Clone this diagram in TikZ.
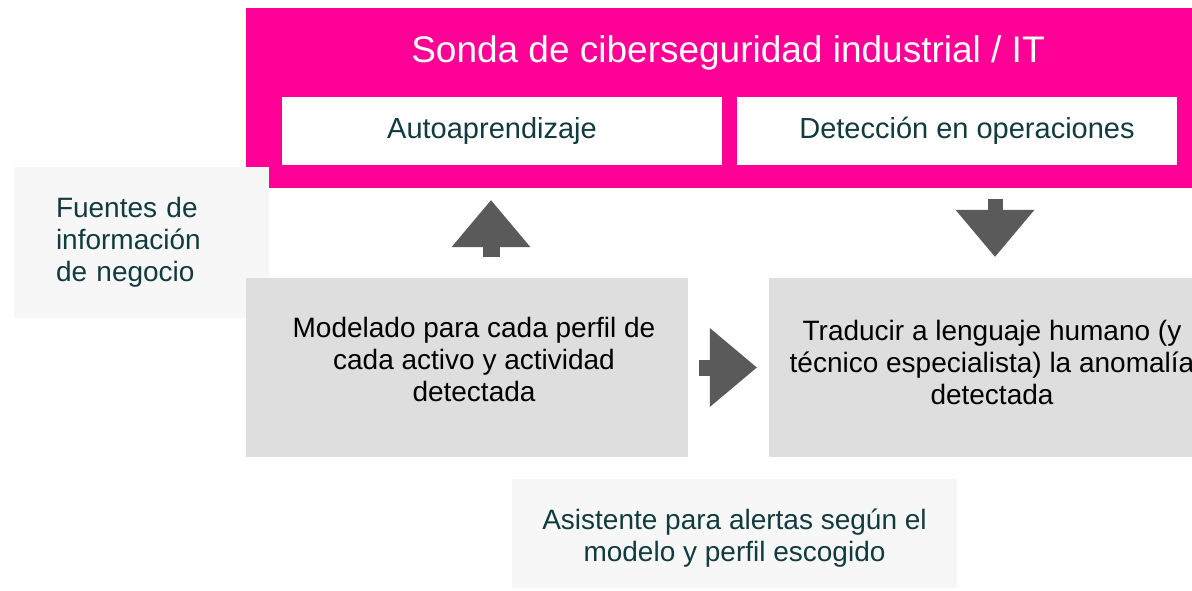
\documentclass[tikz,border=0pt]{standalone}
\usepackage{fontspec}
\setmainfont{Liberation Sans}
\usetikzlibrary{arrows.meta, calc}
\definecolor{sondapink}{HTML}{FF0096}
\definecolor{tealtext}{HTML}{113B3F}
\definecolor{boxgray}{HTML}{DEDEDE}
\definecolor{boxlight}{HTML}{F7F7F7}
\definecolor{arrowgray}{HTML}{5A5A5A}

\begin{document}
\begin{tikzpicture}[x=1pt, y=-1pt,
                    every node/.style={align=center, inner sep=0pt, font=\fontsize{28}{32}\selectfont},
                    whitebox/.style={fill=white, text=tealtext, minimum width=440pt, minimum height=68pt, font=\fontsize{29}{33}\selectfont},
                    graybox/.style={fill=boxgray, text=black, minimum height=179pt},
                    lightbox/.style={fill=boxlight, text=tealtext},
                    blockarrow/.style={draw=arrowgray, line width=17pt, -{Triangle[width=79pt, length=47pt, line width=0pt, fill=arrowgray]}}]
    % Frame
    \clip (0,0) rectangle (1192,590);
    % Probe with its two stages
    \node[fill=sondapink, minimum width=964pt, minimum height=180pt] (sonda) at (728,98) {};
    \node[text=white, font=\fontsize{37}{42}\selectfont] (title) at (728,53) {Sonda de ciberseguridad industrial / IT};
    \node[whitebox] (auto) at (502,131) {\hspace*{-20pt}Autoaprendizaje};
    \node[whitebox] (detec) at (957,131) {Detección en operaciones\hspace*{-20pt}};
    % Side and bottom boxes
    \node[lightbox, minimum width=255pt, minimum height=151pt, text width=171pt, align=left] (fuentes) at (141.5,242.5) {Fuentes de\\información\\de negocio\\[-22pt]};
    \node[graybox, minimum width=442pt] (model) at (467,367.5) {\hspace*{14pt}Modelado para cada perfil de\\\hspace*{14pt}cada activo y actividad\\\hspace*{14pt}detectada\\[-16pt]};
    \node[graybox, minimum width=446pt] (trad) at (992,367.5) {Traducir a lenguaje humano (y\\técnico especialista) la anomalía\\detectada\\[-22pt]};
    \node[lightbox, minimum width=445pt, minimum height=109pt] (asist) at (734.5,533.5) {Asistente para alertas según el\\modelo y perfil escogido\\[-36pt]};
    % Flow arrows
    \draw[blockarrow] ($(model.north)+(24,-21)$) -- ($(sonda.south)+(-237,12)$);
    \draw[blockarrow, line width=15pt] ($(sonda.south)+(267,11)$) -- ($(trad.north)+(3,-21)$);
    \draw[blockarrow, line width=16pt] ($(model.east)+(11,0)$) -- ($(trad.west)+(-12,0)$);
\end{tikzpicture}
\end{document}
